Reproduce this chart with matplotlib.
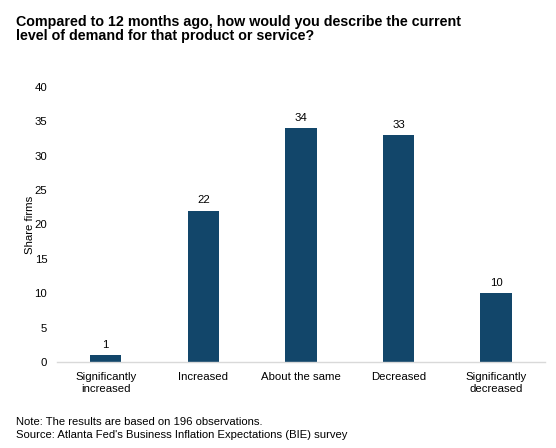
import matplotlib.pyplot as plt
import numpy as np

plt.rcParams['font.family'] = ['Liberation Sans', 'DejaVu Sans']

categories = ['Significantly\nincreased', 'Increased', 'About the same', 'Decreased', 'Significantly\ndecreased']
share_firms = [1, 22, 34, 33, 10]

title = 'Compared to 12 months ago, how would you describe the current\nlevel of demand for that product or service?'
note = 'Note: The results are based on 196 observations.'
source = "Source: Atlanta Fed's Business Inflation Expectations (BIE) survey"

fig = plt.figure(figsize=(5.56, 4.48), dpi=100)
ax = fig.add_axes([0.1025, 0.192, 0.8775, 0.614])

x = np.arange(len(categories))
bars = ax.bar(x, share_firms, width=0.32, color='#12466A')
for xi, v in zip(x, share_firms):
    ax.text(xi, v + 0.8, str(v), ha='center', va='bottom', fontsize=8.2, color='black')

ax.set_xlim(-0.5, len(categories) - 0.5)
ax.set_ylim(0, 40)
ax.set_yticks(np.arange(0, 41, 5))
ax.set_xticks(x)
ax.set_xticklabels(categories, fontsize=8.2, linespacing=1.3)
ax.tick_params(axis='y', labelsize=8.2, length=0, pad=7)
ax.tick_params(axis='x', length=0, pad=7)
ax.set_ylabel('Share firms', fontsize=8.2, labelpad=0)

for s in ['top', 'right', 'left']:
    ax.spines[s].set_visible(False)
ax.spines['bottom'].set_color('#D9D9D9')
ax.spines['bottom'].set_linewidth(1)

fig.text(0.029, 0.966, title, ha='left', va='top', fontsize=10.3, fontweight='bold', linespacing=0.98)
fig.text(0.029, 0.057, note, ha='left', va='center', fontsize=8.1)
fig.text(0.029, 0.028, source, ha='left', va='center', fontsize=8.1)

fig.savefig('out.png', dpi=100)
